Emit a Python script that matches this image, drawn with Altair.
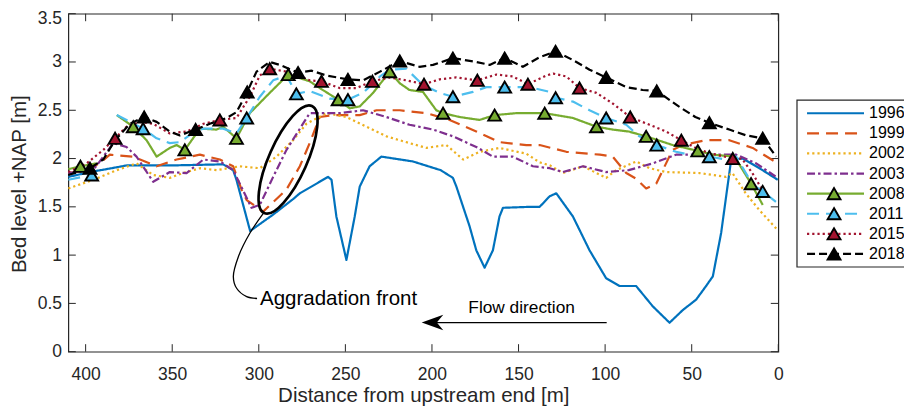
import altair as alt
import pandas as pd

FONT = "Liberation Sans, Arial, Helvetica, sans-serif"
INK = "#262626"

# ---------------- data ----------------
YEARS = ["1996", "1999", "2002", "2003", "2008", "2011", "2015", "2018"]
COLORS = ["#0072BD", "#D95319", "#EDB120", "#7E2F8E", "#77AC30", "#4DBEEE", "#A2142F", "#000000"]
DASHES = [[1, 0], [12, 7], [2.2, 3], [8, 3, 2.5, 3], [1, 0], [12, 7], [2.2, 3], [8, 4]]

d_1996 = [410, 397.5, 385, 376, 347.5, 320.6, 314.8, 312.9, 305, 291.7, 280.2, 276.3, 260, 258, 255.2, 249.4,
          244.6, 241.7, 236, 229.2, 211, 195, 187.9, 185.9, 178.3, 174.4, 169.6, 164.8, 161, 159, 143.6, 137.8,
          132, 128.2, 118.6, 109, 99.4, 91.7, 82.1, 72.5, 62.8, 55.2, 47.4, 41.7, 37.8, 33, 27.2, 20.5, 10.9, 0.3]
v_1996 = [1.81, 1.86, 1.90, 1.93, 1.93, 1.94, 1.88, 1.78, 1.25, 1.42, 1.58, 1.64, 1.81, 1.78, 1.40, 0.95,
          1.40, 1.71, 1.92, 2.02, 1.97, 1.88, 1.80, 1.71, 1.30, 1.05, 0.87, 1.05, 1.40, 1.49, 1.50, 1.50,
          1.61, 1.64, 1.40, 1.05, 0.76, 0.68, 0.68, 0.47, 0.30, 0.43, 0.54, 0.68, 0.78, 1.23, 1.99, 2.00, 1.90, 1.78]

d_1999 = [410, 400, 392, 386, 372.5, 359, 347.5, 334, 322.5, 314.8, 310, 307, 297.5, 284, 276.3, 270.6, 264.8,
          257, 241.7, 232, 218.6, 203, 189.8, 174.4, 161, 145.5, 137.8, 122.4, 103, 95.6, 87.8, 82, 76.3, 70.5,
          64.8, 61, 55.2, 41.7, 28.3, 14.8, 0.3]
v_1999 = [1.85, 1.88, 1.95, 2.04, 2.02, 1.92, 1.99, 2.04, 1.99, 1.92, 1.68, 1.57, 1.45, 1.68, 1.92, 2.16, 2.43,
          2.45, 2.45, 2.50, 2.50, 2.47, 2.40, 2.28, 2.17, 2.14, 2.14, 2.07, 2.04, 2.02, 1.85, 1.79, 1.69, 1.74,
          1.95, 2.09, 2.14, 2.19, 2.19, 2.11, 1.95]

d_2002 = [410, 395.6, 382, 370.6, 361, 351.4, 343.7, 334, 324.4, 311, 299.4, 289.8, 280.2, 272.5, 261, 249.4,
          237.9, 226.3, 213, 203.2, 191.7, 182, 172.5, 161, 145.5, 137.8, 132, 124.4, 112.8, 99.4, 93.6, 82,
          74.4, 64.8, 45.6, 30.2, 26.5, 18.8, 11.1, 0.4]
v_2002 = [1.69, 1.78, 1.88, 1.95, 1.83, 1.80, 1.85, 1.90, 1.88, 1.92, 1.90, 2.02, 2.19, 2.36, 2.47, 2.43,
          2.33, 2.23, 2.16, 2.11, 2.14, 1.99, 2.07, 2.11, 2.05, 1.96, 1.93, 1.85, 1.92, 1.80, 1.88, 1.97,
          1.90, 1.86, 1.85, 1.81, 1.85, 1.64, 1.47, 1.26]

d_2003 = [410, 395.6, 384, 376.4, 370.6, 361, 351.4, 341.7, 332, 322.5, 314.8, 304.2, 299.4, 291.7, 284, 270.6,
          253.3, 239.8, 226.3, 213, 199.4, 187.9, 174.4, 164.8, 153.3, 141.7, 132, 124.4, 112.8, 99.4, 86.4,
          72.5, 59, 45.6, 24.3, 12.8, 0.4]
v_2003 = [1.85, 1.88, 2.16, 2.12, 2.02, 1.76, 1.86, 1.85, 1.99, 1.97, 1.88, 1.49, 1.52, 1.81, 2.09, 2.47,
          2.47, 2.50, 2.43, 2.35, 2.30, 2.23, 2.12, 2.02, 2.02, 1.92, 1.90, 1.86, 1.92, 1.86, 1.88,
          1.95, 2.04, 2.04, 2.04, 1.95, 1.80]

# None marks a gap in the survey line
d_2008 = [410, 403, 393.7, None, 382, 372.5, 364.8, 359, 351.4, 347.5, 342.7, 334, 324.4, 320.6, 312.9, 305.2,
          293.7, 283, 270.6, 264.8, 254.2, 247.5, 241.7, 234, 224.4, 218.6, 213, 205.2, 197.5, 193.6, 184,
          172.5, 163.8, 151.3, 134.9, 118.6, 105, 95.6, 86.4, 76.3, 61, 46.5, 37.8, 25.3, 15.7, 9]
v_2008 = [1.89, 1.92, 1.95, None, 2.45, 2.33, 2.19, 2.02, 2.11, 2.14, 2.09, 2.31, 2.30, 2.33, 2.21, 2.47,
          2.68, 2.87, 2.80, 2.73, 2.61, 2.52, 2.54, 2.68, 2.90, 2.78, 2.71, 2.69, 2.50, 2.47, 2.43,
          2.40, 2.45, 2.47, 2.47, 2.42, 2.33, 2.30, 2.28, 2.23, 2.14, 2.08, 2.04, 2.02, 1.74, 1.52]
mk_d_2008 = [403, 372.5, 342.7, 312.9, 283, 254.2, 224.4, 193.6, 163.8, 134.9, 105, 76.3, 46.5, 15.7]
mk_v_2008 = [1.92, 2.33, 2.09, 2.21, 2.87, 2.61, 2.90, 2.47, 2.45, 2.47, 2.33, 2.23, 2.08, 1.74]

d_2011 = [410, 396.5, None, 382, 374.4, 366.8, 359, 351.4, 345.6, 337, 332, 320.6, 312.9, 307, 299.4, 291.7,
          284, 278.3, 270.6, 259, 248.5, 239.8, 230, 224.4, 214.8, 205.2, 195.6, 187.9, 176.3, 168.6, 158,
          143.6, 132, 128.6, 118.6, 109, 99.4, 87.8, 80.2, 70.2, 59, 51.4, 39.8, 30.2, 24.3, 14.8, 9, 0.5]
v_2011 = [1.78, 1.83, None, 2.45, 2.38, 2.31, 2.21, 2.16, 2.17, 2.28, 2.31, 2.31, 2.26, 2.42, 2.64, 2.81,
          2.86, 2.67, 2.70, 2.62, 2.61, 2.68, 2.85, 2.92, 2.93, 2.76, 2.68, 2.64, 2.69, 2.74, 2.74,
          2.74, 2.69, 2.63, 2.59, 2.50, 2.42, 2.35, 2.23, 2.14, 2.07, 2.04, 2.02, 1.99, 2.02, 1.73, 1.66, 1.54]
mk_d_2011 = [396.5, 366.8, 307, 278.3, 248.5, 187.9, 158, 128.6, 99.4, 70.2, 39.8, 9]
mk_v_2011 = [1.83, 2.31, 2.42, 2.67, 2.61, 2.64, 2.74, 2.63, 2.42, 2.14, 2.02, 1.66]

d_2015 = [410, 399.4, 389.8, 383, 376.4, 368.7, 361, 351.4, 341.7, 332, 322.5, 312.9, 305.2, 299.4, 293.7, 284,
          276.3, 270.6, 263.8, 253.3, 243.6, 234.4, 224.4, 214.8, 204.6, 195.6, 186, 173.8, 162.8, 153.3,
          144.6, 134, 130, 122.4, 114.8, 105, 95.6, 85.5, 74.4, 64.8, 56, 45.6, 36, 26.3, 21, 15, 10]
v_2015 = [1.86, 1.95, 2.09, 2.21, 2.33, 2.38, 2.36, 2.26, 2.28, 2.36, 2.40, 2.42, 2.64, 2.86, 2.93, 2.90,
          2.85, 2.81, 2.80, 2.73, 2.73, 2.80, 2.84, 2.81, 2.77, 2.82, 2.84, 2.81, 2.87, 2.85,
          2.77, 2.86, 2.88, 2.85, 2.73, 2.68, 2.57, 2.43, 2.35, 2.28, 2.19, 2.09, 2.04, 2.00, 2.00, 1.85, 1.70]
mk_d_2015 = [383, 322.5, 293.7, 263.8, 234.4, 204.6, 173.8, 144.6, 114.8, 85.5, 56, 26.3]
mk_v_2015 = [2.21, 2.40, 2.93, 2.80, 2.80, 2.77, 2.81, 2.77, 2.73, 2.43, 2.19, 2.00]

d_2018 = [410, 397.5, 389.8, 383, 374.4, 366.2, 359, 351.4, 345.6, 336.5, 328.3, 318.6, 312.9, 306.7, 301.3,
          293.7, 287.9, 277.3, 269.5, 261, 248.5, 239.8, 230, 218.6, 207.2, 199.4, 187.9, 174.4, 166.7, 158,
          147.5, 137.8, 128.6, 118.6, 109, 99.4, 87.8, 78.3, 70.2, 57.5, 47.9, 39.8, 28.3, 18.6, 9, 1.2]
v_2018 = [1.83, 1.90, 1.99, 2.19, 2.36, 2.43, 2.38, 2.28, 2.24, 2.30, 2.36, 2.42, 2.48, 2.69, 2.90,
          3.00, 2.97, 2.89, 2.91, 2.86, 2.82, 2.81, 2.90, 3.01, 2.95, 2.97, 3.04, 3.00, 2.97, 3.04,
          2.95, 3.05, 3.11, 3.02, 2.92, 2.84, 2.74, 2.71, 2.70, 2.54, 2.43, 2.37, 2.30, 2.24, 2.21, 2.02]
mk_d_2018 = [397.5, 366.2, 336.5, 306.7, 277.3, 248.5, 218.6, 187.9, 158, 128.6, 99.4, 70.2, 39.8, 9]
mk_v_2018 = [1.90, 2.43, 2.30, 2.69, 2.89, 2.82, 3.01, 3.04, 3.04, 3.11, 2.84, 2.70, 2.37, 2.21]

X_TICKS = [0, 50, 100, 150, 200, 250, 300, 350, 400]
Y_TICKS = [0, 0.5, 1, 1.5, 2, 2.5, 3, 3.5]

# ---------------- tables ----------------
series = {
    "1996": (d_1996, v_1996), "1999": (d_1999, v_1999), "2002": (d_2002, v_2002), "2003": (d_2003, v_2003),
    "2008": (d_2008, v_2008), "2011": (d_2011, v_2011), "2015": (d_2015, v_2015), "2018": (d_2018, v_2018),
}
markers = {
    "2008": (mk_d_2008, mk_v_2008), "2011": (mk_d_2011, mk_v_2011),
    "2015": (mk_d_2015, mk_v_2015), "2018": (mk_d_2018, mk_v_2018),
}

rows = []
for yr, (ds, vs) in series.items():
    seg, k = 0, 0
    for d, v in zip(ds, vs):
        if d is None or v is None:
            seg += 1
            continue
        rows.append({"year": yr, "seg": f"{yr}-{seg}", "k": k, "d": d, "v": v})
        k += 1
lines_df = pd.DataFrame(rows)

mk_rows = []
for yr, (ds, vs) in markers.items():
    for d, v in zip(ds, vs):
        mk_rows.append({"year": yr, "d": d, "v": v})
mk_df = pd.DataFrame(mk_rows)

# ---------------- layout (in data units) ----------------
XMAX, YMAX = 410, 3.5
TICK_X = 0.0777   # inward tick length on x-axis, in y units
TICK_Y = 4.33     # inward tick length on y-axis, in x units

tick_rows = []
for t in X_TICKS:
    tick_rows.append({"d": t, "d2": t, "v": 0, "v2": TICK_X})
    tick_rows.append({"d": t, "d2": t, "v": YMAX, "v2": YMAX - TICK_X})
for t in Y_TICKS:
    tick_rows.append({"d": XMAX, "d2": XMAX - TICK_Y, "v": t, "v2": t})
    tick_rows.append({"d": 0, "d2": TICK_Y, "v": t, "v2": t})
ticks_df = pd.DataFrame(tick_rows)

# legend geometry
LEG_BOX = {"d": -10.8, "d2": -110, "v": 2.606, "v2": 0.877}
LEG_LINE_D, LEG_LINE_D2, LEG_MK_D, LEG_TXT_D = -16.6, -49.5, -32.2, -52.4
LEG_V0, LEG_STEP = 2.469, 0.2081

leg_line_df = pd.DataFrame([{"year": y, "d": LEG_LINE_D, "d2": LEG_LINE_D2, "v": LEG_V0 - i * LEG_STEP}
                            for i, y in enumerate(YEARS)])
leg_mk_df = pd.DataFrame([{"year": y, "d": LEG_MK_D, "v": LEG_V0 - i * LEG_STEP}
                          for i, y in enumerate(YEARS) if y in markers])
leg_txt_df = pd.DataFrame([{"year": y, "d": LEG_TXT_D, "v": LEG_V0 - i * LEG_STEP}
                           for i, y in enumerate(YEARS)])

# annotations
ELLIPSE = {"d": 283.1, "v": 1.99}
leader_d = [297.4, 305.1, 311.8, 314.7, 312.8, 307.0, 301.0]
leader_v = [1.433, 1.229, 0.984, 0.777, 0.657, 0.570, 0.551]
leader_df = pd.DataFrame({"k": range(len(leader_d)), "d": leader_d, "v": leader_v})
AGG_TXT = {"d": 299.3, "v": 0.484, "t": "Aggradation front"}
FLOW_TXT = {"d": 179.0, "v": 0.398, "t": "Flow direction"}
ARROW = {"d": 99.1, "d2": 200.0, "v": 0.302}
ARROW_HEAD = {"d": 199.7, "v": 0.302}

# ---------------- encodings ----------------
x_axis = alt.Axis(values=X_TICKS, format="d", title="Distance from upstream end [m]", grid=False,
                  ticks=False, tickSize=0, domain=False, labelFont=FONT, labelFontSize=17.5,
                  labelColor=INK, labelPadding=13.8, labelFlush=False, titleFont=FONT,
                  titleFontSize=20.5, titleFontWeight="normal", titleColor=INK,
                  titleBaseline="alphabetic", titleAnchor="middle", titleX=355, titleY=49.5)
y_axis = alt.Axis(values=Y_TICKS, format=".1~f", title="Bed level +NAP [m]", grid=False,
                  ticks=False, tickSize=0, domain=False, labelFont=FONT, labelFontSize=17.5,
                  labelColor=INK, labelPadding=6.8, labelFlush=False,
                  labelOffset={"condition": {"test": "datum.value >= 3.5", "value": 4.5}, "value": 0},
                  titleFont=FONT, titleFontSize=20.5, titleFontWeight="normal", titleColor=INK,
                  titleBaseline="alphabetic", titleAnchor="middle", titleAngle=270,
                  titleX=-43, titleY=170)
xs = alt.Scale(domain=[0, XMAX], reverse=True, nice=False, zero=False)
ys = alt.Scale(domain=[0, YMAX], nice=False, zero=False)
X = alt.X("d:Q", scale=xs, axis=x_axis)
Y = alt.Y("v:Q", scale=ys, axis=y_axis)

color_scale = alt.Scale(domain=YEARS, range=COLORS)
dash_scale = alt.Scale(domain=YEARS, range=DASHES)
COL = alt.Color("year:N", scale=color_scale, legend=None)
DASH = alt.StrokeDash("year:N", scale=dash_scale, legend=None)
FILL = alt.Fill("year:N", scale=color_scale, legend=None)

ticks = alt.Chart(ticks_df).mark_rule(color=INK, strokeWidth=1).encode(
    x=X, x2="d2:Q", y=Y, y2="v2:Q")

lines = alt.Chart(lines_df).mark_line(strokeWidth=2.2, strokeCap="butt", strokeJoin="round").encode(
    x=X, y=Y, color=COL, strokeDash=DASH, detail="seg:N", order="k:Q")

pts = alt.Chart(mk_df).mark_point(shape="triangle-up", filled=True, size=165, stroke="black",
                                  strokeWidth=1.9, opacity=1).encode(x=X, y=Y, fill=FILL)

ellipse_path = ("M0,-1 C0.179,-1 0.324,-0.552 0.324,0 C0.324,0.552 0.179,1 0,1 "
                "C-0.179,1 -0.324,0.552 -0.324,0 C-0.324,-0.552 -0.179,-1 0,-1 Z")
ellipse = alt.Chart(pd.DataFrame([ELLIPSE])).mark_point(
    shape=ellipse_path, size=13736, angle=24, filled=False, stroke="black", strokeWidth=2.7,
    opacity=1).encode(x=X, y=Y)

leader = alt.Chart(leader_df).mark_line(color="black", strokeWidth=1.3, interpolate="catmull-rom").encode(
    x=X, y=Y, order="k:Q")

agg_txt = alt.Chart(pd.DataFrame([AGG_TXT])).mark_text(
    align="left", baseline="alphabetic", font=FONT, fontSize=20.5, color="black").encode(x=X, y=Y, text="t:N")
flow_txt = alt.Chart(pd.DataFrame([FLOW_TXT])).mark_text(
    align="left", baseline="alphabetic", font=FONT, fontSize=17.3, color="black").encode(x=X, y=Y, text="t:N")

arrow = alt.Chart(pd.DataFrame([ARROW])).mark_rule(color="black", strokeWidth=1.3).encode(
    x=X, x2="d2:Q", y=Y)
arrow_head = alt.Chart(pd.DataFrame([ARROW_HEAD])).mark_point(
    shape="M-1,0L1,-0.72L0.4,0L1,0.72Z", size=466, filled=True, color="black", strokeWidth=0,
    opacity=1).encode(x=X, y=Y)

leg_box = alt.Chart(pd.DataFrame([LEG_BOX])).mark_rect(fill="white", stroke=INK, strokeWidth=1.2).encode(
    x=X, x2="d2:Q", y=Y, y2="v2:Q")
leg_lines = alt.Chart(leg_line_df).mark_rule(strokeWidth=2.2, strokeCap="butt").encode(
    x=X, x2="d2:Q", y=Y, color=COL, strokeDash=DASH)
leg_pts = alt.Chart(leg_mk_df).mark_point(shape="triangle-up", filled=True, size=165, stroke="black",
                                          strokeWidth=1.9, opacity=1).encode(x=X, y=Y, fill=FILL)
leg_txt = alt.Chart(leg_txt_df).mark_text(align="left", baseline="middle", font=FONT, fontSize=16,
                                          color="black").encode(x=X, y=Y, text="year:N")

chart = alt.layer(
    ticks, lines, pts, ellipse, leader, agg_txt, flow_txt, arrow, arrow_head,
    leg_box, leg_lines, leg_pts, leg_txt
).properties(
    width=710, height=338,
    autosize=alt.AutoSizeParams(type="none"),
    padding={"left": 60.3, "top": 5.7, "right": 125.7, "bottom": 57},
).configure_view(stroke=INK, strokeWidth=1.2)

chart.save("out.html", embed_options={"renderer": "svg", "actions": False})
